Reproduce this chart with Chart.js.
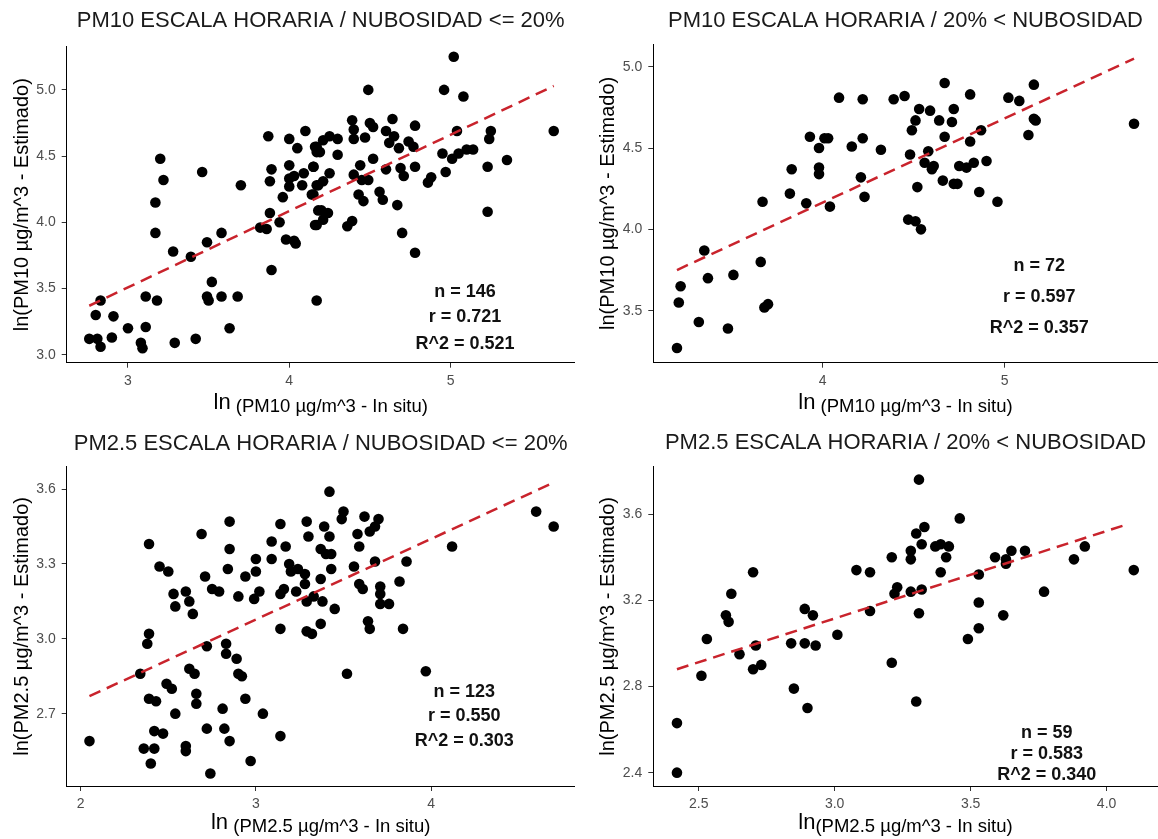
<!DOCTYPE html>
<html>
<head>
<meta charset="utf-8">
<script src="https://cdn.jsdelivr.net/npm/chart.js@4.4.1/dist/chart.umd.min.js"></script>
<style>
html, body { margin: 0; padding: 0; background: #fff; overflow: hidden; }
#wrap { position: relative; width: 1158px; height: 839px; overflow: hidden; }
.panel { position: absolute; }
</style>
</head>
<body>
<div id="wrap">
  <div class="panel" style="left:0;top:0;width:580px;height:420px"><canvas id="c1"></canvas></div>
  <div class="panel" style="left:580px;top:0;width:583px;height:420px"><canvas id="c2"></canvas></div>
  <div class="panel" style="left:0;top:420px;width:580px;height:419px"><canvas id="c3"></canvas></div>
  <div class="panel" style="left:580px;top:420px;width:583px;height:419px"><canvas id="c4"></canvas></div>
</div>
<script>
const FONT = '"Liberation Sans", Arial, sans-serif';

// PM10, nubosidad <= 20%
const pm10LowX = [2.76,2.81,2.83,2.80,2.83,2.91,2.90,3.00,3.08,3.09,3.11,3.11,3.18,3.17,3.17,3.22,3.20,3.28,3.29,3.39,
  3.42,3.46,3.49,3.52,3.49,3.50,3.58,3.58,3.63,3.68,3.70,3.82,3.86,3.88,3.94,3.89,3.87,3.89,3.88,3.98,
  4.04,4.03,3.96,4.00,4.00,4.00,4.05,4.10,4.00,4.03,4.08,4.09,4.14,4.15,4.16,4.17,4.17,4.18,4.16,4.17,
  5.02,4.49,4.96,5.08,5.64,4.39,4.50,4.64,4.78,4.40,4.40,4.47,4.52,4.60,4.65,4.62,4.25,4.30,4.17,4.21,
  4.19,4.30,4.68,4.74,4.77,5.04,5.25,5.24,4.95,5.01,5.05,5.10,5.14,5.35,5.23,4.97,4.86,4.88,4.52,4.60,
  4.44,4.40,4.45,4.49,4.69,4.71,4.78,4.15,4.25,4.18,4.21,4.15,4.43,4.46,4.56,4.58,4.67,4.20,4.24,4.17,
  4.21,4.36,4.39,4.70,4.78,5.23];
const pm10LowY = [3.12,3.12,3.06,3.30,3.41,3.29,3.13,3.20,3.09,3.05,3.21,3.44,3.41,3.92,4.15,4.32,4.48,3.78,3.09,3.74,
  3.12,4.38,3.85,3.55,3.44,3.41,3.44,3.92,3.20,3.44,4.28,3.96,3.95,4.07,4.00,3.64,4.65,4.40,4.31,3.87,
  3.84,3.86,4.19,4.27,4.43,4.63,4.56,4.69,4.33,4.35,4.28,4.37,4.21,4.42,4.57,4.53,4.28,4.09,3.98,3.41,
  5.25,5.00,5.00,4.95,4.69,4.77,4.75,4.78,4.73,4.70,4.63,4.64,4.72,4.69,4.65,4.60,4.65,4.63,4.57,4.62,
  4.53,4.51,4.56,4.61,4.57,4.69,4.69,4.63,4.52,4.48,4.52,4.55,4.55,4.47,4.42,4.38,4.30,4.34,4.48,4.40,
  4.43,4.36,4.32,4.32,4.41,4.35,4.42,4.42,4.37,4.28,4.31,4.21,4.21,4.16,4.23,4.17,4.13,4.09,4.07,3.98,
  4.02,3.97,4.01,3.92,3.77,4.08];
const pm10LowFitX = [2.76, 5.64];
const pm10LowFitY = [3.37, 5.03];
const pm10LowStats = ['n = 146', 'r = 0.721', 'R^2 = 0.521'];
const pm10LowXTicks = [3, 4, 5];
const pm10LowYTicks = [3.0, 3.5, 4.0, 4.5, 5.0];

// PM10, 20% < nubosidad
const pm10HighX = [3.20,3.21,3.22,3.32,3.35,3.37,3.48,3.51,3.66,3.67,3.68,3.70,3.82,3.83,3.91,3.93,3.98,3.98,3.98,4.01,
  4.03,4.04,4.09,4.16,4.22,4.22,4.21,4.23,4.39,4.45,4.67,4.81,5.02,5.08,5.16,5.71,4.53,4.59,4.72,4.51,
  4.64,4.71,5.16,5.17,4.49,4.67,4.87,4.81,5.13,4.32,4.48,4.58,4.56,4.61,4.60,4.75,4.79,4.83,4.90,4.66,
  4.72,4.74,4.52,4.86,4.96,4.47,4.51,4.54];
const pm10HighY = [3.27,3.55,3.65,3.43,3.87,3.70,3.39,3.72,3.80,4.17,3.52,3.54,4.22,4.37,4.16,4.57,4.50,4.38,4.34,4.56,
  4.56,4.14,4.81,4.51,4.80,4.56,4.32,4.20,4.80,4.82,4.90,4.83,4.81,4.79,4.89,4.65,4.74,4.73,4.74,4.67,
  4.67,4.66,4.68,4.67,4.61,4.57,4.61,4.54,4.58,4.49,4.46,4.48,4.41,4.39,4.37,4.39,4.38,4.41,4.42,4.30,
  4.28,4.28,4.26,4.23,4.17,4.06,4.05,4.00];
const pm10HighFitX = [3.20, 5.71];
const pm10HighFitY = [3.75, 5.05];
const pm10HighStats = ['n = 72', 'r = 0.597', 'R^2 = 0.357'];
const pm10HighXTicks = [4, 5];
const pm10HighYTicks = [3.5, 4.0, 4.5, 5.0];

// PM2.5, nubosidad <= 20%
const pm25LowX = [2.05,2.39,2.45,2.50,2.69,2.85,2.85,2.84,2.71,2.75,2.79,2.53,2.54,2.60,2.62,2.64,2.90,2.94,3.00,3.00,
  2.99,3.02,3.09,3.09,3.14,3.17,3.19,3.20,3.24,3.28,3.29,3.30,3.14,3.16,3.23,3.28,3.29,3.14,3.29,3.32,
  2.39,2.38,2.72,2.83,2.83,2.89,2.90,2.92,2.34,2.62,2.65,2.49,2.52,2.39,2.43,2.66,2.66,2.54,2.81,2.94,
  3.04,2.42,2.47,2.72,2.82,2.85,3.14,2.36,2.42,2.60,2.60,2.40,2.74,2.97,
  3.42,3.50,3.49,3.62,3.70,3.68,3.65,3.39,3.42,3.58,3.59,3.37,3.40,3.43,4.12,4.60,4.70,3.86,3.68,3.56,
  3.43,3.82,3.37,3.59,3.61,3.71,3.71,3.33,3.38,3.45,3.71,3.76,3.37,3.64,3.65,3.84,3.52,3.97];
const pm25LowY = [2.59,3.38,3.29,3.27,3.42,3.47,3.36,3.28,3.25,3.20,3.19,3.18,3.13,3.19,3.15,3.10,3.17,3.25,3.32,3.27,
  3.16,3.19,3.39,3.32,3.46,3.37,3.30,3.27,3.28,3.26,3.47,3.41,3.18,3.20,3.19,3.22,3.15,3.04,3.03,3.02,
  3.02,2.98,2.97,2.98,2.94,2.92,2.86,2.85,2.86,2.88,2.86,2.82,2.80,2.76,2.75,2.78,2.74,2.70,2.72,2.76,
  2.70,2.63,2.62,2.64,2.64,2.59,2.61,2.56,2.56,2.57,2.55,2.50,2.46,2.51,
  3.59,3.51,3.48,3.49,3.48,3.45,3.43,3.45,3.41,3.42,3.37,3.36,3.34,3.34,3.37,3.51,3.45,3.31,3.31,3.29,
  3.28,3.23,3.24,3.22,3.20,3.21,3.18,3.17,3.15,3.12,3.14,3.14,3.06,3.07,3.04,3.04,2.86,2.87];
const pm25LowFitX = [2.05, 4.71];
const pm25LowFitY = [2.77, 3.63];
const pm25LowStats = ['n = 123', 'r = 0.550', 'R^2 = 0.303'];
const pm25LowXTicks = [2, 3, 4];
const pm25LowYTicks = [2.7, 3.0, 3.3, 3.6];

// PM2.5, 20% < nubosidad
const pm25HighX = [2.42,2.42,2.51,2.53,2.60,2.61,2.62,2.65,2.70,2.70,2.73,2.71,2.84,2.89,2.93,2.89,2.92,2.85,2.90,3.01,
  3.08,3.31,3.46,3.33,3.30,3.32,3.37,3.39,3.42,3.41,3.28,3.28,3.21,3.13,3.39,3.59,3.63,3.63,3.65,3.70,
  3.88,3.92,4.10,3.53,3.23,3.22,3.28,3.32,3.77,3.13,3.31,3.53,3.62,3.53,3.49,3.21,3.30];
const pm25HighY = [2.40,2.63,2.85,3.02,3.13,3.10,3.23,2.95,3.33,2.88,2.90,2.99,3.00,3.00,2.99,3.16,3.13,2.79,2.70,3.04,
  3.34,3.76,3.58,3.54,3.51,3.46,3.45,3.46,3.45,3.40,3.43,3.39,3.40,3.33,3.33,3.40,3.39,3.37,3.43,3.43,
  3.39,3.45,3.34,3.32,3.26,3.23,3.24,3.25,3.24,3.15,3.14,3.19,3.13,3.07,3.02,2.91,2.73];
const pm25HighFitX = [2.42, 4.07];
const pm25HighFitY = [2.88, 3.55];
const pm25HighStats = ['n = 59', 'r = 0.583', 'R^2 = 0.340'];
const pm25HighXTicks = [2.5, 3.0, 3.5, 4.0];
const pm25HighYTicks = [2.4, 2.8, 3.2, 3.6];

const zip = (xs, ys) => xs.map((x, i) => ({ x, y: ys[i] }));

const panelText = {
  id: 'panelText',
  afterDraw(chart, args, o) {
    const { ctx, chartArea, scales } = chart;
    const cx = (chartArea.left + chartArea.right) / 2;
    ctx.save();
    ctx.fillStyle = '#1a1a1a';
    ctx.textAlign = 'center';
    ctx.textBaseline = 'middle';
    ctx.font = `22px ${FONT}`;
    ctx.fillText(o.title, cx, o.titleY);

    ctx.fillStyle = '#111';
    ctx.font = `bold 18px ${FONT}`;
    o.stats.forEach((s, i) => {
      ctx.fillText(s, scales.x.getPixelForValue(o.statsX), scales.y.getPixelForValue(o.statsY[i]));
    });

    // x axis label: bigger "ln" followed by the rest
    ctx.fillStyle = '#000';
    ctx.textBaseline = 'alphabetic';
    ctx.textAlign = 'left';
    ctx.font = `22px ${FONT}`;
    const w1 = ctx.measureText('ln').width;
    ctx.font = `18.5px ${FONT}`;
    const w2 = ctx.measureText(o.xLabel).width;
    const x0 = cx - (w1 + w2) / 2;
    const base = chartArea.bottom + o.xLabelOffset;
    ctx.font = `22px ${FONT}`;
    ctx.fillText('ln', x0, base - 3);
    ctx.font = `18.5px ${FONT}`;
    ctx.fillText(o.xLabel, x0 + w1, base);
    ctx.restore();
  }
};

function makePanel(id, p) {
  const el = document.getElementById(id);
  const h = el.parentNode.clientHeight;
  return new Chart(el, {
    type: 'scatter',
    data: {
      datasets: [
        {
          type: 'line',
          data: zip(p.fitX, p.fitY),
          borderColor: '#c9232c',
          borderWidth: 2.5,
          borderDash: [12, 7],
          pointRadius: 0,
          fill: false,
          order: 0,
          clip: false
        },
        {
          data: zip(p.xs, p.ys),
          backgroundColor: '#000',
          borderWidth: 0,
          pointRadius: 5.3,
          pointHoverRadius: 5.3,
          order: 1,
          clip: false
        }
      ]
    },
    options: {
      responsive: true, maintainAspectRatio: false,
      animation: false,
      events: [],
      layout: { padding: { left: 0, top: p.top, right: p.padRight, bottom: 0 } },
      plugins: {
        legend: { display: false },
        tooltip: { enabled: false },
        panelText: {
          title: p.title, titleY: p.titleY,
          stats: p.stats, statsX: p.statsX, statsY: p.statsY,
          xLabel: p.xLabel, xLabelOffset: p.xLabelOffset
        }
      },
      scales: {
        x: {
          type: 'linear', min: p.xMin, max: p.xMax,
          afterBuildTicks: s => { s.ticks = p.xTicks.map(v => ({ value: v })); },
          afterFit: s => { s.height = h - p.bottom; },
          border: { display: true, color: '#000', width: 1 },
          grid: { display: true, drawOnChartArea: false, drawTicks: true, tickLength: 5, color: '#333' },
          ticks: { color: '#4d4d4d', font: { family: FONT, size: 14 }, padding: 5, maxRotation: 0,
                   callback: v => v.toFixed(p.xDec) }
        },
        y: {
          type: 'linear', min: p.yMin, max: p.yMax,
          afterBuildTicks: s => { s.ticks = p.yTicks.map(v => ({ value: v })); },
          afterFit: s => { s.width = p.left; },
          border: { display: true, color: '#000', width: 1 },
          grid: { display: true, drawOnChartArea: false, drawTicks: true, tickLength: 5, color: '#333' },
          ticks: { color: '#4d4d4d', font: { family: FONT, size: 14 }, padding: 6,
                   callback: v => v.toFixed(1) },
          title: { display: true, text: p.yLabel, color: '#000', font: { family: FONT, size: 20 },
                   padding: { top: p.yLabelPad, bottom: 0 } }
        }
      }
    },
    plugins: [panelText]
  });
}

makePanel('c1', {
  xs: pm10LowX, ys: pm10LowY, fitX: pm10LowFitX, fitY: pm10LowFitY,
  xTicks: pm10LowXTicks, yTicks: pm10LowYTicks, xDec: 0,
  xMin: 2.62, xMax: 5.77, yMin: 2.94, yMax: 5.326,
  left: 66.7, top: 46.7, padRight: 5, bottom: 362.7,
  title: 'PM10 ESCALA HORARIA / NUBOSIDAD <= 20%', titleY: 20.8,
  stats: pm10LowStats, statsX: 5.09, statsY: [3.476, 3.287, 3.081],
  xLabel: ' (PM10 µg/m^3 - In situ)', xLabelOffset: 48.8,
  yLabel: 'ln(PM10 µg/m^3 - Estimado)', yLabelPad: 10
});

makePanel('c2', {
  xs: pm10HighX, ys: pm10HighY, fitX: pm10HighFitX, fitY: pm10HighFitY,
  xTicks: pm10HighXTicks, yTicks: pm10HighYTicks, xDec: 0,
  xMin: 3.07, xMax: 5.84, yMin: 3.18, yMax: 5.14,
  left: 73.3, top: 44, padRight: 0, bottom: 362.7,
  title: 'PM10 ESCALA HORARIA / 20% < NUBOSIDAD', titleY: 20.8,
  stats: pm10HighStats, statsX: 5.19, statsY: [3.775, 3.586, 3.394],
  xLabel: ' (PM10 µg/m^3 - In situ)', xLabelOffset: 48.8,
  yLabel: 'ln(PM10 µg/m^3 - Estimado)', yLabelPad: 16.6
});

makePanel('c3', {
  xs: pm25LowX, ys: pm25LowY, fitX: pm25LowFitX, fitY: pm25LowFitY,
  xTicks: pm25LowXTicks, yTicks: pm25LowYTicks, xDec: 0,
  xMin: 1.92, xMax: 4.82, yMin: 2.41, yMax: 3.69,
  left: 66.7, top: 46.7, padRight: 5, bottom: 366,
  title: 'PM2.5 ESCALA HORARIA / NUBOSIDAD <= 20%', titleY: 23.5,
  stats: pm25LowStats, statsX: 4.19, statsY: [2.788, 2.689, 2.589],
  xLabel: ' (PM2.5 µg/m^3 - In situ)', xLabelOffset: 46,
  yLabel: 'ln(PM2.5 µg/m^3 - Estimado)', yLabelPad: 10
});

makePanel('c4', {
  xs: pm25HighX, ys: pm25HighY, fitX: pm25HighFitX, fitY: pm25HighFitY,
  xTicks: pm25HighXTicks, yTicks: pm25HighYTicks, xDec: 1,
  xMin: 2.333, xMax: 4.188, yMin: 2.338, yMax: 3.82,
  left: 73.3, top: 46.7, padRight: 0, bottom: 366,
  title: 'PM2.5 ESCALA HORARIA / 20% < NUBOSIDAD', titleY: 22.5,
  stats: pm25HighStats, statsX: 3.78, statsY: [2.584, 2.487, 2.39],
  xLabel: '(PM2.5 µg/m^3 - In situ)', xLabelOffset: 46,
  yLabel: 'ln(PM2.5 µg/m^3 - Estimado)', yLabelPad: 16.6
});
</script>
</body>
</html>
